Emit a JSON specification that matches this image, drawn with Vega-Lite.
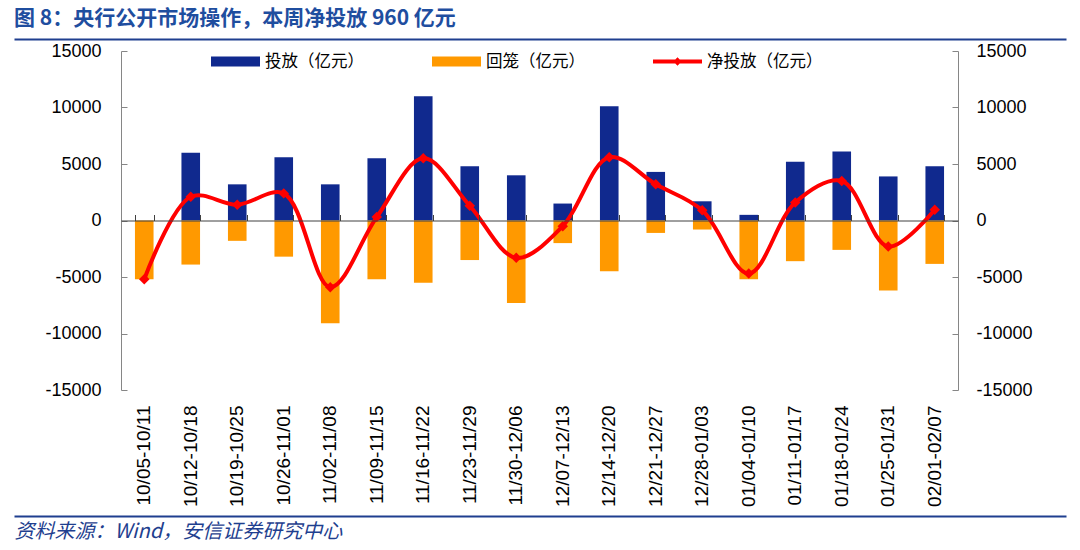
{
  "$schema": "https://vega.github.io/schema/vega-lite/v6.json",
  "background": "white",
  "autosize": {"type": "none"},
  "padding": {"left": 14, "top": 51, "right": 14, "bottom": 160},
  "width": 1052,
  "height": 339,
  "config": {"view": {"stroke": null}, "font": "Liberation Sans"},
  "title": {
    "text": "图 8：央行公开市场操作，本周净投放 960 亿元",
    "anchor": "start",
    "font": "Noto Sans CJK SC",
    "fontSize": 21,
    "fontWeight": "bold",
    "color": "#1F4E9F",
    "offset": 8
  },
  "data": {
    "values": [
      {"week": "10/05-10/11", "投放": 0, "回笼": -5200, "净投放": -5200},
      {"week": "10/12-10/18", "投放": 6000, "回笼": -3900, "净投放": 2100},
      {"week": "10/19-10/25", "投放": 3200, "回笼": -1800, "净投放": 1400},
      {"week": "10/26-11/01", "投放": 5600, "回笼": -3200, "净投放": 2400},
      {"week": "11/02-11/08", "投放": 3200, "回笼": -9100, "净投放": -5900},
      {"week": "11/09-11/15", "投放": 5500, "回笼": -5200, "净投放": 300},
      {"week": "11/16-11/22", "投放": 11000, "回笼": -5500, "净投放": 5500},
      {"week": "11/23-11/29", "投放": 4800, "回笼": -3500, "净投放": 1300},
      {"week": "11/30-12/06", "投放": 4000, "回笼": -7300, "净投放": -3300},
      {"week": "12/07-12/13", "投放": 1500, "回笼": -2000, "净投放": -500},
      {"week": "12/14-12/20", "投放": 10100, "回笼": -4500, "净投放": 5600},
      {"week": "12/21-12/27", "投放": 4300, "回笼": -1100, "净投放": 3200},
      {"week": "12/28-01/03", "投放": 1700, "回笼": -800, "净投放": 900},
      {"week": "01/04-01/10", "投放": 500, "回笼": -5200, "净投放": -4700},
      {"week": "01/11-01/17", "投放": 5200, "回笼": -3600, "净投放": 1600},
      {"week": "01/18-01/24", "投放": 6100, "回笼": -2600, "净投放": 3500},
      {"week": "01/25-01/31", "投放": 3900, "回笼": -6200, "净投放": -2300},
      {"week": "02/01-02/07", "投放": 4800, "回笼": -3840, "净投放": 960}
    ]
  },
  "layer": [
    {
      "transform": [{"fold": ["投放", "回笼"], "as": ["series", "value"]}],
      "mark": {"type": "bar"},
      "encoding": {
        "x": {
          "field": "week", "type": "nominal", "sort": null,
          "scale": {"range": [107, 944], "paddingInner": 0.6, "paddingOuter": 0.3},
          "axis": {
            "orient": "bottom", "title": null, "domain": false, "ticks": false,
            "labelAngle": -90, "labelAlign": "right", "labelBaseline": "middle",
            "labelPadding": 15, "labelFontSize": 19, "labelColor": "#000000",
            "labelFont": "Liberation Sans"
          }
        },
        "y": {
          "field": "value", "type": "quantitative", "stack": null,
          "scale": {"domain": [-15000, 15000], "nice": false},
          "axis": {
            "orient": "left", "offset": -107, "title": null,
            "grid": false, "labelExpr": "'' + datum.value",
            "values": [-15000, -10000, -5000, 0, 5000, 10000, 15000],
            "domainColor": "#868686", "tickColor": "#868686", "tickSize": -6,
            "labelPadding": 26, "labelFontSize": 18, "labelColor": "#000000",
            "labelFont": "Liberation Sans"
          }
        },
        "color": {
          "field": "series", "type": "nominal",
          "scale": {"domain": ["投放", "回笼", "净投放"], "range": ["#10298E", "#FF9900", "#FF0000"]},
          "legend": {
            "orient": "none", "legendX": 197, "legendY": -14,
            "direction": "horizontal", "title": null, "padding": 0,
            "labelExpr": "datum.label + '（亿元）'",
            "labelFont": "Noto Sans CJK SC", "labelFontSize": 16.5, "labelColor": "#000000",
            "symbolSize": 2401, "symbolStrokeWidth": 0, "symbolOffset": 0, "labelOffset": 5, "columnPadding": 68,
            "encode": {
              "symbols": {
                "update": {
                  "shape": {"signal": "datum.value === '净投放' ? 'M-1,-0.08H1V0.08H-1Z M0,-0.17L0.17,0L0,0.17L-0.17,0Z' : 'M-1,-0.2H1V0.2H-1Z'"},
                  "fill": {"scale": "color", "field": "value"},
                  "stroke": {"value": "transparent"},
                  "opacity": {"value": 1}
                }
              }
            }
          }
        }
      }
    },
    {
      "mark": {
        "type": "line", "interpolate": "catmull-rom", "strokeWidth": 4,
        "point": {"shape": "diamond", "size": 110, "filled": true}
      },
      "encoding": {
        "x": {
          "field": "week", "type": "nominal", "sort": null,
          "scale": {"range": [107, 944], "paddingInner": 0.6, "paddingOuter": 0.3},
          "axis": {
            "orient": "bottom", "title": null, "offset": -169.5, "labels": false,
            "tickBand": "extent", "tickSize": -6, "domainColor": "#404040",
            "tickColor": "#404040", "zindex": 1
          }
        },
        "y": {
          "field": "净投放", "type": "quantitative",
          "scale": {"domain": [-15000, 15000], "nice": false},
          "axis": {
            "orient": "right", "offset": -108, "title": null, "grid": false,
            "labelExpr": "'' + datum.value",
            "values": [-15000, -10000, -5000, 0, 5000, 10000, 15000],
            "domainColor": "#868686", "tickColor": "#868686", "tickSize": -6,
            "labelPadding": 24, "labelFontSize": 18, "labelColor": "#000000",
            "labelFont": "Liberation Sans"
          }
        },
        "color": {"datum": "净投放"}
      }
    },
    {
      "data": {"values": []},
      "mark": "point",
      "encoding": {
        "x": {
          "field": "edge", "type": "quantitative",
          "scale": {"domain": [0, 1]},
          "axis": {
            "orient": "top", "offset": 12, "title": null, "labels": false, "ticks": false,
            "grid": false, "domainColor": "#1F3F8F", "domainWidth": 2
          }
        }
      }
    },
    {
      "data": {"values": []},
      "mark": "point",
      "encoding": {
        "x": {
          "field": "edge", "type": "quantitative",
          "scale": {"domain": [0, 1]},
          "axis": {
            "orient": "bottom", "offset": 126, "labels": false, "ticks": false,
            "grid": false, "domainColor": "#1F3F8F", "domainWidth": 2,
            "title": "资料来源：Wind，安信证券研究中心",
            "titleAnchor": "start", "titleAlign": "left", "titleBaseline": "top",
            "titlePadding": 5, "titleFont": "Noto Sans CJK SC", "titleFontSize": 20,
            "titleFontStyle": "italic", "titleFontWeight": "normal", "titleColor": "#1F3F8F"
          }
        }
      }
    }
  ],
  "resolve": {
    "scale": {"x": "independent"},
    "axis": {"x": "independent", "y": "independent"}
  }
}
